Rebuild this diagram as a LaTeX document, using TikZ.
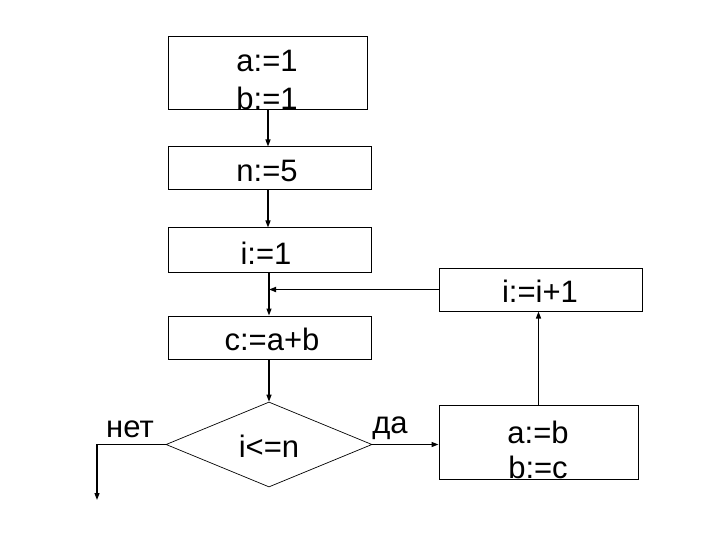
\documentclass[tikz,border=0pt]{standalone}
\usepackage{fontspec}
\setmainfont{Liberation Sans}
\usetikzlibrary{arrows.meta,shapes.geometric}
\begin{document}
\begin{tikzpicture}[x=1pt,y=-1pt,
  box/.style={draw,line width=1pt,inner sep=0pt},
  txt/.style={anchor=base,inner sep=0pt,font=\fontsize{31}{36}\selectfont},
  arr/.style={line width=1.2pt,-{Triangle[length=7pt,width=5pt]}},
  dia/.style={draw,line width=0.7pt,diamond,inner sep=0pt,aspect=2.43}]
\useasboundingbox (0,0) rectangle (720,540);
% boxes
\node[box,minimum width=199pt,minimum height=73pt] (b1) at (267.5,73.5) {};
\node[box,minimum width=203pt,minimum height=43pt] (b2) at (269.5,168.5) {};
\node[box,minimum width=203pt,minimum height=44pt] (b3) at (269.5,250) {};
\node[box,minimum width=203pt,minimum height=43pt] (b4) at (269.5,337.5) {};
\node[box,minimum width=203pt,minimum height=43pt] (b5) at (540.5,289.5) {};
\node[box,minimum width=199pt,minimum height=74pt] (b6) at (538.5,442) {};
\node[dia,minimum width=206pt,minimum height=85pt] (d) at (269,444.5) {};
% texts
\node[txt] (t1) at (267,72) {a:=1};
\node[txt] (t2) at (267,110) {b:=1};
\node[txt] (t3) at (267,182) {n:=5};
\node[txt] (t4) at (266,264) {i:=1};
\node[txt] (t5) at (272,350) {c:=a+b};
\node[txt] (t6) at (540,302) {i:=i+1};
\node[txt] (t7) at (538,443) {a:=b};
\node[txt] (t8) at (538,478) {b:=c};
\node[txt] (t9) at (269,457) {i<=n};
\node[txt] (no) at (130,437) {нет};
\node[txt] (yes) at (390,433) {да};
% connectors
\coordinate (m) at (b4.north |- b5.west);
\coordinate (nc) at (97,444.5);
\coordinate (ne) at (97,500);
\draw[arr] (b1.south -| b2.north) ++(-1.5,0) coordinate (s1) -- (s1 |- b2.north);
\draw[arr] (b2.south) ++(-1.5,0) coordinate (s2) -- (s2 |- b3.north);
\draw[line width=1.4pt] (b3.south) ++(-0.5,0) coordinate (s3) -- (s3 |- m);
\draw[arr] (s3 |- m) -- (s3 |- b4.north);
\draw[arr,line width=1.6pt] (b5.west) -- (s3 |- m);
\draw[arr] (b4.south) ++(-0.5,0) coordinate (s4) -- (s4 |- d.north);
\draw[arr] (d.east) -- (d.east -| b6.west);
\draw[arr] (b6.north) -- (b5.south -| b6.north);
\draw[arr] (d.west) -- (nc) -- (ne);
\end{tikzpicture}
\end{document}
